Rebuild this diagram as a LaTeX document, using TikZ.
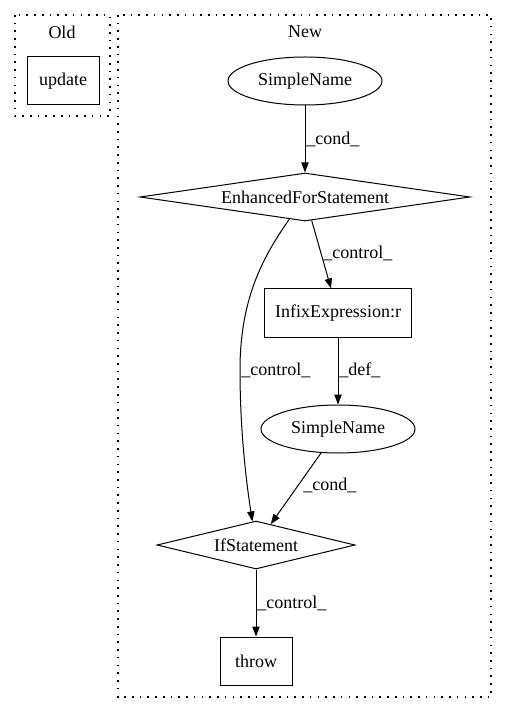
\documentclass[tikz,border=0pt]{standalone}
\usepackage{fontspec}
\setmainfont{Liberation Serif}
\usetikzlibrary{shapes.geometric,arrows.meta}
\begin{document}
\begin{tikzpicture}[x=0.75pt, y=-0.75pt, font=\fontsize{13.5}{16.2}\selectfont,
    box/.style={rectangle,draw,line width=0.75pt,minimum width=54pt,minimum height=36pt,inner sep=0pt},
    oval/.style={ellipse,draw,line width=0.75pt,minimum width=115.5pt,minimum height=36pt,inner sep=0pt},
    rhomb/.style={diamond,draw,line width=0.75pt,aspect=6.9,inner sep=0pt,minimum height=36pt},
    cluster/.style={draw,dash pattern=on 1.2pt off 4.6pt,line width=0.9pt},
    edge/.style={-{Triangle[length=7.5pt,width=5.5pt]},line width=0.75pt},
    lbl/.style={anchor=west,inner sep=0pt}]
  \useasboundingbox (0,0) rectangle (507,712);
  % clusters
  \draw[cluster] (15,15) rectangle (110,116);
  \draw[cluster] (118,15) rectangle (491,697);
  \node (old) at (62,32) {Old};
  \node (new) at (305,32) {New};

  % nodes
  \node[box] (upd) at (63,81) {update};
  \node[oval] (sn1) at (305,81) {SimpleName};
  \node[rhomb,minimum width=247.5pt] (efs) at (305,197) {EnhancedForStatement};
  \node[box,minimum width=110pt] (infix) at (338,313) {InfixExpression:r};
  \node[oval] (sn2) at (338,429) {SimpleName};
  \node[rhomb,minimum width=148.5pt] (ifst) at (256,545) {IfStatement};
  \node[box] (thr) at (256,661) {throw};

  % edges
  \draw[edge] (sn1) -- (efs);
  \node[lbl] (l1) at (306,139) {\_cond\_};
  \draw[edge] (efs) -- (infix);
  \node[lbl] (l2) at (323,253) {\_control\_};
  \draw[edge] (efs) .. controls (262,258) and (240,300) .. (240,370)
              .. controls (240,430) and (246,480) .. (ifst);
  \node[lbl] (l3) at (241,370) {\_control\_};
  \draw[edge] (infix) -- (sn2);
  \node[lbl] (l4) at (339,370) {\_def\_};
  \draw[edge] (sn2) -- (ifst);
  \node[lbl] (l5) at (303,485) {\_cond\_};
  \draw[edge] (ifst) -- (thr);
  \node[lbl] (l6) at (257,603) {\_control\_};
\end{tikzpicture}
\end{document}
